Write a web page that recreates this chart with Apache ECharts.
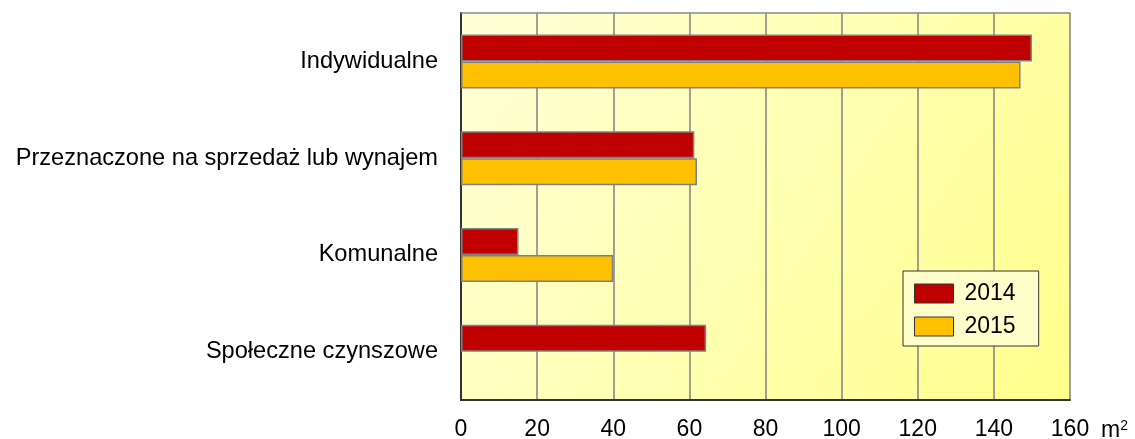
<!DOCTYPE html>
<html>
<head>
<meta charset="utf-8">
<script src="https://cdn.jsdelivr.net/npm/echarts@6/dist/echarts.min.js"></script>
<style>
html,body{margin:0;padding:0;background:#fff;}
#c{width:1135px;height:439px;}
</style>
</head>
<body>
<div id="c"></div>
<script>
const categories = ['Indywidualne', 'Przeznaczone na sprzedaż lub wynajem', 'Komunalne', 'Społeczne czynszowe'];
const values2014 = [150, 61.3, 15.1, 64.4];
const values2015 = [147, 62.0, 40, null];
const seriesNames = ['2014', '2015'];
const xTicks = { min: 0, max: 160, interval: 20 };
const unitBase = 'm';
const unitExp = '2';

const chart = echarts.init(document.getElementById('c'), null, { renderer: 'canvas' });
const font = 'Liberation Sans, Arial, sans-serif';
const FS = 23;
chart.setOption({
  animation: false,
  textStyle: { fontFamily: font },
  grid: {
    left: 461, right: 65, top: 13, bottom: 39,
    containLabel: false,
    outerBoundsMode: 'none',
    show: true,
    borderWidth: 0,
    backgroundColor: new echarts.graphic.LinearGradient(0, 0, 1, 1, [
      { offset: 0, color: '#FFFFD8' },
      { offset: 1, color: '#FFFF8C' }
    ])
  },
  legend: {
    orient: 'vertical',
    left: 903, top: 271,
    padding: [11, 23, 8, 11],
    itemGap: 10,
    itemWidth: 39, itemHeight: 19,
    backgroundColor: '#FFFFCC',
    borderColor: '#333',
    borderWidth: 1,
    borderRadius: 0,
    icon: 'rect',
    itemStyle: { borderColor: '#333', borderWidth: 1 },
    textStyle: { fontSize: FS, color: '#000', fontFamily: font, padding: [0, 0, 0, 6] },
    data: seriesNames
  },
  xAxis: [{
    type: 'value',
    min: xTicks.min, max: xTicks.max, interval: xTicks.interval,
    position: 'bottom',
    name: '{m|' + unitBase + '}{s|' + unitExp + '}',
    nameLocation: 'end',
    nameGap: 31,
    nameTextStyle: {
      verticalAlign: 'top', align: 'left',
      padding: [19, 0, 0, 0],
      rich: {
        m: { fontSize: FS, color: '#000', fontFamily: font, verticalAlign: 'bottom' },
        s: { fontSize: 14, color: '#000', fontFamily: font, verticalAlign: 'top' }
      }
    },
    axisLine: { show: true, lineStyle: { color: '#333', width: 2 } },
    axisTick: { show: false },
    axisLabel: { fontSize: FS, color: '#000', margin: 18, fontFamily: font },
    splitLine: { show: true, lineStyle: { color: '#888', width: 1.6 } }
  }, {
    type: 'value',
    min: xTicks.min, max: xTicks.max, interval: xTicks.interval,
    position: 'top',
    axisLine: { show: true, lineStyle: { color: '#888', width: 1.6 } },
    axisTick: { show: false },
    axisLabel: { show: false },
    splitLine: { show: false }
  }],
  yAxis: [{
    type: 'category',
    data: categories,
    inverse: true,
    position: 'left',
    axisLine: { show: true, lineStyle: { color: '#333', width: 2 } },
    axisTick: { show: false },
    axisLabel: { fontSize: 23.6, color: '#000', margin: 23, fontFamily: font },
    splitLine: { show: false }
  }, {
    type: 'category',
    data: categories,
    inverse: true,
    position: 'right',
    axisLine: { show: true, lineStyle: { color: '#333', width: 2 } },
    axisTick: { show: false },
    axisLabel: { show: false },
    splitLine: { show: false }
  }],
  series: [{
    name: seriesNames[0],
    type: 'bar',
    data: values2014,
    barWidth: 27,
    barGap: '0%',
    itemStyle: { color: '#C00000', borderColor: '#808080', borderWidth: 1.5 }
  }, {
    name: seriesNames[1],
    type: 'bar',
    data: values2015,
    barWidth: 27,
    barGap: '0%',
    itemStyle: { color: '#FFC000', borderColor: '#808080', borderWidth: 1.5 }
  }]
});
</script>
</body>
</html>
